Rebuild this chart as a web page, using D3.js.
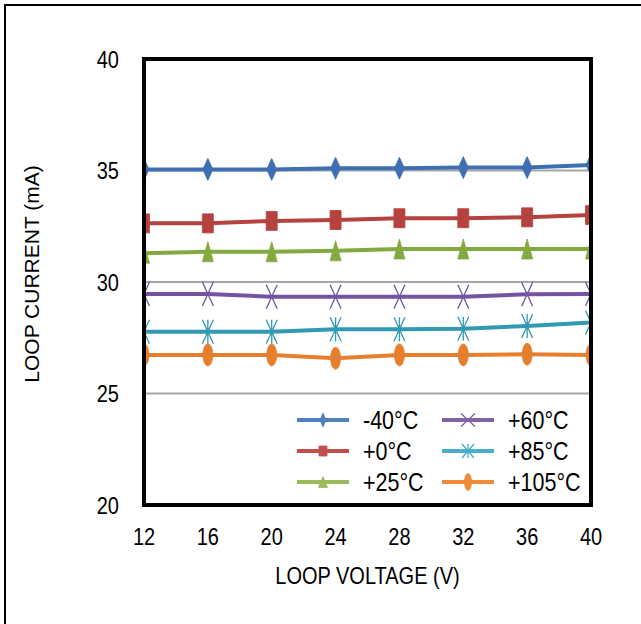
<!DOCTYPE html>
<html>
<head>
<meta charset="utf-8">
<script src="https://cdn.jsdelivr.net/npm/d3@7"></script>
<style>
  body { margin: 0; background: #fff; }
  text { font-family: "Liberation Sans", Arial, sans-serif; fill: #000; }
</style>
</head>
<body>
<div id="chart"></div>
<script>
// loop voltage (V)
const voltages = [12, 16, 20, 24, 28, 32, 36, 40];
const xTicks = [12, 16, 20, 24, 28, 32, 36, 40];
const yTicks = [20, 25, 30, 35, 40];
const gridValues = [25, 30, 35];

// loop current (mA) per temperature
const seriesNames = ['-40°C', '+0°C', '+25°C', '+60°C', '+85°C', '+105°C'];
const m40 = [35.05, 35.05, 35.05, 35.10, 35.10, 35.13, 35.13, 35.25];
const p0 = [32.63, 32.63, 32.74, 32.78, 32.86, 32.86, 32.90, 33.00];
const p25 = [31.29, 31.36, 31.36, 31.40, 31.48, 31.48, 31.48, 31.48];
const p60 = [29.46, 29.46, 29.34, 29.34, 29.34, 29.34, 29.45, 29.46];
const p85 = [27.77, 27.77, 27.77, 27.88, 27.88, 27.90, 28.03, 28.18];
const p105 = [26.73, 26.73, 26.73, 26.58, 26.73, 26.73, 26.76, 26.73];
const seriesValues = [m40, p0, p25, p60, p85, p105];

const colors = ['#3f6fb3', '#b5423e', '#83aa40', '#7553a0', '#3199b1', '#e57f2e'];
const legendColors = ['#4f81bd', '#c0504d', '#9bbb59', '#8064a2', '#4bacc6', '#f08a36'];
const markerTypes = ['diamond', 'square', 'triangle', 'x', 'star', 'ellipse'];

const W = 641, H = 624;
const plotL = 144, plotR = 591, plotT = 59, plotB = 505;
const stretch = 1.18;

const svg = d3.select('#chart').append('svg')
    .attr('width', W).attr('height', H);

// outer frame
svg.append('rect')
    .attr('x', 5).attr('y', 5)
    .attr('width', W + 20).attr('height', H + 20)
    .attr('fill', 'none').attr('stroke', '#000').attr('stroke-width', 2);

const x = d3.scaleLinear().domain([12, 40]).range([plotL, plotR]);
const y = d3.scaleLinear().domain([20, 40]).range([plotB, plotT]);

svg.append('clipPath').attr('id', 'plotClip')
    .append('rect')
    .attr('x', plotL).attr('y', plotT)
    .attr('width', plotR - plotL).attr('height', plotB - plotT);

// gridlines
svg.selectAll('.grid').data(gridValues).enter()
    .append('line')
    .attr('x1', plotL).attr('x2', plotR)
    .attr('y1', d => y(d)).attr('y2', d => y(d))
    .attr('stroke', '#a6a6a6').attr('stroke-width', 2);

// marker path builder, w/h are full width and height
function markerPath(type, w, h) {
    const a = w / 2, b = h / 2;
    switch (type) {
        case 'diamond':
            return `M0,${-b}L${a},0L0,${b}L${-a},0Z`;
        case 'square':
            return `M${-a},${-b}H${a}V${b}H${-a}Z`;
        case 'triangle':
            return `M0,${-b}L${a},${b}H${-a}Z`;
        case 'x':
            return `M${-a},${-b}L${a},${b}M${a},${-b}L${-a},${b}`;
        case 'star':
            return `M${-a},${-b}L${a},${b}M${a},${-b}L${-a},${b}M0,${-b}V${b}`;
        case 'ellipse':
            return `M${-a},0A${a},${b} 0 1,0 ${a},0A${a},${b} 0 1,0 ${-a},0Z`;
    }
}

function drawMarker(g, type, color, w, h) {
    const open = type === 'x' || type === 'star';
    g.append('path')
        .attr('d', markerPath(type, w, h))
        .attr('fill', open ? 'none' : color)
        .attr('stroke', color)
        .attr('stroke-width', open ? 1.3 : 0.8);
}

const plot = svg.append('g').attr('clip-path', 'url(#plotClip)');

const line = d3.line()
    .x((d, i) => x(voltages[i]))
    .y(d => y(d));

const plotSizes = {
    diamond: [10, 22], square: [11, 19], triangle: [11, 20],
    x: [11, 24], star: [11, 24], ellipse: [10, 22]
};

seriesValues.forEach((vals, s) => {
    const g = plot.append('g');
    g.append('path')
        .datum(vals)
        .attr('d', line)
        .attr('fill', 'none')
        .attr('stroke', colors[s])
        .attr('stroke-width', 4);
    vals.forEach((v, i) => {
        const mg = g.append('g')
            .attr('transform', `translate(${x(voltages[i])},${y(v)})`);
        const sz = plotSizes[markerTypes[s]];
        drawMarker(mg, markerTypes[s], colors[s], sz[0], sz[1]);
    });
});

// plot frame
svg.append('rect')
    .attr('x', plotL).attr('y', plotT)
    .attr('width', plotR - plotL).attr('height', plotB - plotT)
    .attr('fill', 'none').attr('stroke', '#000').attr('stroke-width', 4);

// text with the tall look of the original
function label(tx, ty, str, anchor, size) {
    return svg.append('text')
        .attr('transform', `translate(${tx},${ty}) scale(1,${stretch})`)
        .attr('text-anchor', anchor)
        .attr('font-size', size)
        .text(str);
}

yTicks.forEach(d => label(119, y(d) + 8.5, d, 'end', 20));
xTicks.forEach(d => label(x(d), 545, d, 'middle', 20));

label((plotL + plotR) / 2, 584, 'LOOP VOLTAGE (V)', 'middle', 20);

svg.append('text')
    .attr('transform', `translate(39,${(plotT + plotB) / 2 - 8}) rotate(-90)`)
    .attr('text-anchor', 'middle')
    .attr('font-size', 21)
    .text('LOOP CURRENT (mA)');

// legend
const legendCols = [297, 442];
const legendRows = [420, 451, 482];
const legendSizes = {
    diamond: [6, 14], square: [8, 10], triangle: [9, 11],
    x: [14, 13], star: [12, 14], ellipse: [7, 17]
};
seriesNames.forEach((name, s) => {
    const cx = legendCols[Math.floor(s / 3)];
    const cy = legendRows[s % 3];
    const g = svg.append('g').attr('transform', `translate(${cx},${cy})`);
    g.append('line')
        .attr('x1', 0).attr('x2', 52)
        .attr('stroke', legendColors[s]).attr('stroke-width', 4);
    const mg = g.append('g').attr('transform', 'translate(26,0)');
    const sz = legendSizes[markerTypes[s]];
    drawMarker(mg, markerTypes[s], legendColors[s], sz[0], sz[1]);
    label(cx + 66, cy + 9, name, 'start', 21.5);
});
</script>
</body>
</html>
